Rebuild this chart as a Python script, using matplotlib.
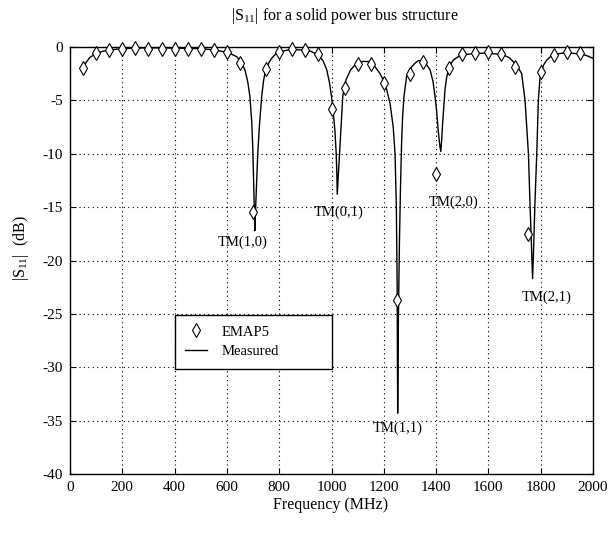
import matplotlib
matplotlib.use("Agg")
import matplotlib.pyplot as plt
from matplotlib.lines import Line2D

plt.rcParams['font.family'] = ['Liberation Serif', 'DejaVu Serif']
plt.rcParams['mathtext.fontset'] = 'custom'
plt.rcParams['mathtext.rm'] = 'Liberation Serif'
plt.rcParams['mathtext.it'] = 'Liberation Serif'
plt.rcParams['axes.unicode_minus'] = False

# EMAP5 simulated points (MHz, dB)
emap_freq = [50, 100, 150, 200, 250, 300, 350, 400, 450, 500, 550, 600, 650, 700,
             750, 800, 850, 900, 950, 1000, 1050, 1100, 1150, 1200, 1250, 1300,
             1350, 1400, 1450, 1500, 1550, 1600, 1650, 1700, 1750, 1800, 1850,
             1900, 1950]
emap_db = [-2.0, -0.6, -0.3, -0.2, -0.12, -0.15, -0.15, -0.15, -0.15, -0.15, -0.28,
           -0.5, -1.5, -15.5, -2.1, -0.5, -0.2, -0.28, -0.65, -5.8, -3.85, -1.6,
           -1.55, -3.4, -23.7, -2.56, -1.44, -11.9, -1.94, -0.69, -0.53, -0.5,
           -0.66, -1.9, -17.5, -2.3, -0.75, -0.44, -0.53]

# Measured curve (MHz, dB)
meas_freq = [45, 50, 60, 75, 100, 125, 150, 200, 250, 300, 350, 400, 450, 500, 540,
             570, 600, 620, 637, 655, 669, 680, 688, 695, 699, 702, 705, 707, 710,
             714, 718, 724, 733, 740, 748, 760, 771, 785, 803, 830, 860, 890, 920,
             950, 968, 982, 992, 1000, 1007, 1013, 1018, 1020, 1022, 1025, 1030,
             1036, 1043, 1055, 1073, 1096, 1120, 1147, 1165, 1185, 1205, 1224,
             1236, 1243, 1248, 1251, 1253, 1256, 1260, 1264, 1268, 1272, 1277,
             1287, 1297, 1307, 1320, 1332, 1342, 1351, 1365, 1377, 1388, 1396,
             1402, 1408, 1414, 1418, 1421, 1425, 1434, 1440, 1447, 1456, 1466,
             1485, 1504, 1530, 1555, 1580, 1606, 1632, 1657, 1680, 1695, 1715,
             1727, 1740, 1753, 1759, 1766, 1769, 1772, 1778, 1785, 1791, 1797,
             1804, 1812, 1823, 1835, 1848, 1875, 1899, 1925, 1950, 1975, 2000]
meas_db = [-2.3, -2.0, -1.5, -1.0, -0.6, -0.4, -0.28, -0.15, -0.1, -0.08, -0.08,
           -0.1, -0.12, -0.15, -0.25, -0.35, -0.5, -0.7, -0.9, -1.4, -2.15, -3.3,
           -4.65, -7.0, -9.5, -12.5, -15.5, -17.2, -15.0, -12.5, -10.0, -7.5,
           -4.65, -3.2, -2.1, -1.5, -1.06, -0.7, -0.44, -0.3, -0.25, -0.28, -0.4,
           -0.75, -1.3, -2.15, -3.3, -4.65, -6.2, -7.8, -10.0, -11.5, -13.8,
           -12.5, -10.5, -7.8, -4.65, -3.1, -2.15, -1.53, -1.35, -1.37, -1.8,
           -2.47, -3.4, -5.3, -7.5, -10.0, -15.0, -22.0, -34.3, -25.0, -18.0,
           -13.0, -9.0, -6.5, -4.65, -2.8, -2.2, -1.84, -1.5, -1.28, -1.27, -1.4,
           -1.7, -2.15, -3.2, -4.65, -6.0, -7.8, -9.2, -9.8, -8.8, -7.15, -4.0,
           -2.9, -2.15, -1.6, -1.22, -0.9, -0.75, -0.65, -0.6, -0.58, -0.6, -0.66,
           -0.75, -1.0, -1.37, -2.0, -2.47, -4.97, -9.96, -14.6, -19.6, -21.7,
           -19.6, -14.6, -9.96, -4.97, -3.0, -2.15, -1.65, -1.22, -0.95, -0.75,
           -0.6, -0.55, -0.6, -0.65, -0.8, -1.06]

# Mode annotations
mode_labels = ["TM(1,0)", "TM(0,1)", "TM(2,0)", "TM(1,1)", "TM(2,1)"]
mode_x = [662, 1029, 1468, 1254, 1824]
mode_y = [-18.3, -15.5, -14.5, -35.7, -23.4]

x_ticks = [0, 200, 400, 600, 800, 1000, 1200, 1400, 1600, 1800, 2000]
y_ticks = [0, -5, -10, -15, -20, -25, -30, -35, -40]

fig = plt.figure(figsize=(6.12, 5.37), dpi=100)
ax = fig.add_axes([70/612, 63/537, 523/612, 427/537])

ax.plot(meas_freq, meas_db, color='black', lw=1.0, zorder=3)
ax.plot(emap_freq, emap_db, linestyle='none', marker='d', markersize=7,
        markerfacecolor='white', markeredgecolor='black', markeredgewidth=0.8,
        zorder=4, clip_on=False)

for lab, x, y in zip(mode_labels, mode_x, mode_y):
    ax.text(x, y, lab, ha='center', va='center', fontsize=10.5, zorder=5)

ax.set_xlim(0, 2000)
ax.set_ylim(-40, 0)
ax.set_xticks(x_ticks)
ax.set_yticks(y_ticks)
ax.set_xticklabels([str(t) for t in x_ticks])
ax.set_yticklabels([str(t) for t in y_ticks])
ax.tick_params(direction='in', length=4, width=0.8, labelsize=11,
               top=True, right=True, pad=5)
ax.grid(True, color='black', linestyle=(0, (1, 3)), linewidth=0.8)
for s in ax.spines.values():
    s.set_linewidth(1.0)

handles = [Line2D([], [], linestyle='none', marker='d', markersize=7,
                  markerfacecolor='white', markeredgecolor='black',
                  markeredgewidth=0.8),
           Line2D([], [], color='black', lw=1.0)]
leg = ax.legend(handles, ["EMAP5", "Measured"], loc='upper left',
                bbox_to_anchor=(0.2, 0.248, 0.301, 0.124), mode='expand',
                borderaxespad=0, fancybox=False, edgecolor='black',
                framealpha=1, fontsize=10.5, handlelength=1.5,
                borderpad=0.7, labelspacing=0.45, handletextpad=1.0)
leg.get_frame().set_linewidth(1.0)

fig.text(345/612, 1 - 16.5/537, r"|S$_{\mathrm{11}}$| for a solid power bus structure",
         ha='center', va='center', fontsize=11.5)
fig.text(331/612, 1 - 505/537, "Frequency (MHz)", ha='center', va='center',
         fontsize=11.5)
fig.text(21/612, 1 - 248/537, r"|S$_{\mathrm{11}}$|  (dB)", ha='center',
         va='center', rotation=90, fontsize=11.5)

fig.savefig("out.png", dpi=100)
